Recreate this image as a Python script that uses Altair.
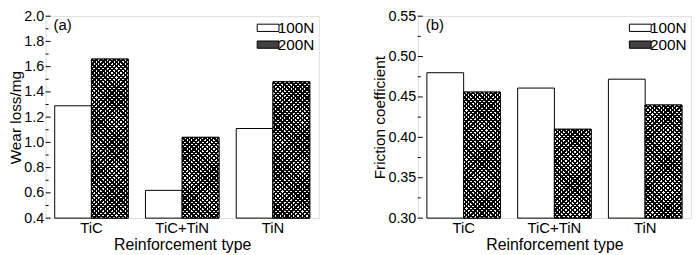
import altair as alt
import pandas as pd

# ---------------- data ----------------
categories = ["TiC", "TiC+TiN", "TiN"]
loads = ["100N", "200N"]
wear_100 = [1.29, 0.62, 1.11]
wear_200 = [1.66, 1.04, 1.48]
fric_100 = [0.480, 0.461, 0.472]
fric_200 = [0.456, 0.410, 0.440]
wear_major = [0.4, 0.6, 0.8, 1.0, 1.2, 1.4, 1.6, 1.8, 2.0]
wear_minor = [0.5, 0.7, 0.9, 1.1, 1.3, 1.5, 1.7, 1.9]
fric_major = [0.30, 0.35, 0.40, 0.45, 0.50, 0.55]
fric_minor = [0.325, 0.375, 0.425, 0.475, 0.525]

# ---------------- style ----------------
FONT = "Liberation Sans"
PW, PH = 276, 204
PAD_INNER, PAD_OUTER = 0.19, 0.1
STRIPE = 4.5
CLEAR = "rgba(255,255,255,0)"


def bar_px(value, lo, hi):
    step = PW / (len(categories) - PAD_INNER + 2 * PAD_OUTER)
    w = step * (1 - PAD_INNER) / 2
    h = (value - lo) / (hi - lo) * PH
    return w, h


def hatch(w, h, flip, gap_color):
    r = w / h
    s = (w + h) / (h * (r * r + 1))
    dt = STRIPE / (w + h)
    stops = []
    i = 0
    while i * dt < 1:
        a = i * dt
        b = min(a + dt * 0.5, 1)
        c = min(a + dt, 1)
        stops += [
            {"offset": a, "color": "black"},
            {"offset": b, "color": "black"},
            {"offset": b, "color": gap_color},
            {"offset": c, "color": gap_color},
        ]
        i += 1
    if flip:
        x1, x2 = 1, 1 - s * r
    else:
        x1, x2 = 0, s * r
    return {"gradient": "linear", "x1": x1, "y1": 0, "x2": x2, "y2": s, "stops": stops}


def panel(v100, v200, lo, hi, major, minor, fmt, ytitle, tag):
    df = pd.DataFrame({
        "cat": categories * 2,
        "load": ["100N"] * 3 + ["200N"] * 3,
        "val": v100 + v200,
    })
    yscale = alt.Scale(domain=[lo, hi], nice=False, zero=False)
    yaxis = alt.Axis(values=major, format=fmt, ticks=False, domain=False, grid=False,
                     title=ytitle, labelFont=FONT, labelFontSize=14.5, labelColor="black",
                     labelPadding=2, titleFont=FONT, titleFontSize=15.5,
                     titleFontWeight="normal", titleColor="black", titlePadding=0)
    x = alt.X("cat:N", sort=categories,
              scale=alt.Scale(domain=categories, paddingInner=PAD_INNER, paddingOuter=PAD_OUTER),
              axis=alt.Axis(title="Reinforcement type", labelAngle=0, ticks=False, domain=False,
                            labelFont=FONT, labelFontSize=15, labelColor="black", labelPadding=3,
                            titleFont=FONT, titleFontSize=16, titleFontWeight="normal",
                            titleColor="black", titlePadding=1))
    xo = alt.XOffset("load:N", scale=alt.Scale(domain=loads))
    y = alt.Y("val:Q", scale=yscale, axis=yaxis)
    y2 = alt.Y2(datum=lo)

    base = alt.Chart(df).mark_bar(stroke="black", strokeWidth=1).encode(
        x=x, xOffset=xo, y=y, y2=y2,
        color=alt.Color("load:N", scale=alt.Scale(domain=loads, range=["white", "#404040"]),
                        legend=alt.Legend(orient="top-right", offset=4, padding=0, title=None,
                                          symbolType="M-3,-1H3V1H-3Z", symbolSize=54,
                                          symbolStrokeColor="black", symbolStrokeWidth=1,
                                          symbolOpacity=1,
                                          labelFont=FONT, labelFontSize=15.5, labelColor="black",
                                          labelOffset=2, rowPadding=0)),
    )
    layers = [base]
    for cat, v in zip(categories, v200):
        w, h = bar_px(v, lo, hi)
        for flip, gap in [(False, "white"), (True, CLEAR)]:
            layers.append(
                alt.Chart(df)
                .transform_filter((alt.datum.cat == cat) & (alt.datum.load == "200N"))
                .mark_bar(fill=hatch(w, h, flip, gap), strokeWidth=0)
                .encode(x=x, xOffset=xo, y=y, y2=y2)
            )
    outline = (alt.Chart(df).transform_filter(alt.datum.load == "200N")
               .mark_bar(fillOpacity=0, stroke="black", strokeWidth=1)
               .encode(x=x, xOffset=xo, y=y, y2=y2))
    layers.append(outline)

    tmaj = pd.DataFrame({"val": major})
    tmin = pd.DataFrame({"val": minor})
    layers.append(alt.Chart(tmaj).mark_rule(color="black", strokeWidth=1).encode(
        y=y, x=alt.value(0), x2=alt.value(5)))
    layers.append(alt.Chart(tmin).mark_rule(color="black", strokeWidth=1).encode(
        y=y, x=alt.value(0), x2=alt.value(3)))
    layers.append(alt.Chart(pd.DataFrame({"s": [tag]})).mark_text(
        font=FONT, fontSize=15, align="left", baseline="top", color="black").encode(
        text="s:N", x=alt.value(8), y=alt.value(2)))
    return alt.layer(*layers).properties(width=PW, height=PH)


pa = panel(wear_100, wear_200, 0.4, 2.0, wear_major, wear_minor, ".1f", "Wear loss/mg", "(a)")
pb = panel(fric_100, fric_200, 0.30, 0.55, fric_major, fric_minor, ".2f", "Friction coefficient", "(b)")

chart = (alt.hconcat(pa, pb, spacing=100, bounds="flush")
         .resolve_scale(color="independent", y="independent")
         .resolve_legend(color="independent")
         .properties(padding={"top": -2, "left": 0, "right": 0, "bottom": 0})
         .configure_view(stroke="black", strokeWidth=1)
         .configure(background="white"))

chart.save("out.html", embed_options={"renderer": "svg", "actions": False})
